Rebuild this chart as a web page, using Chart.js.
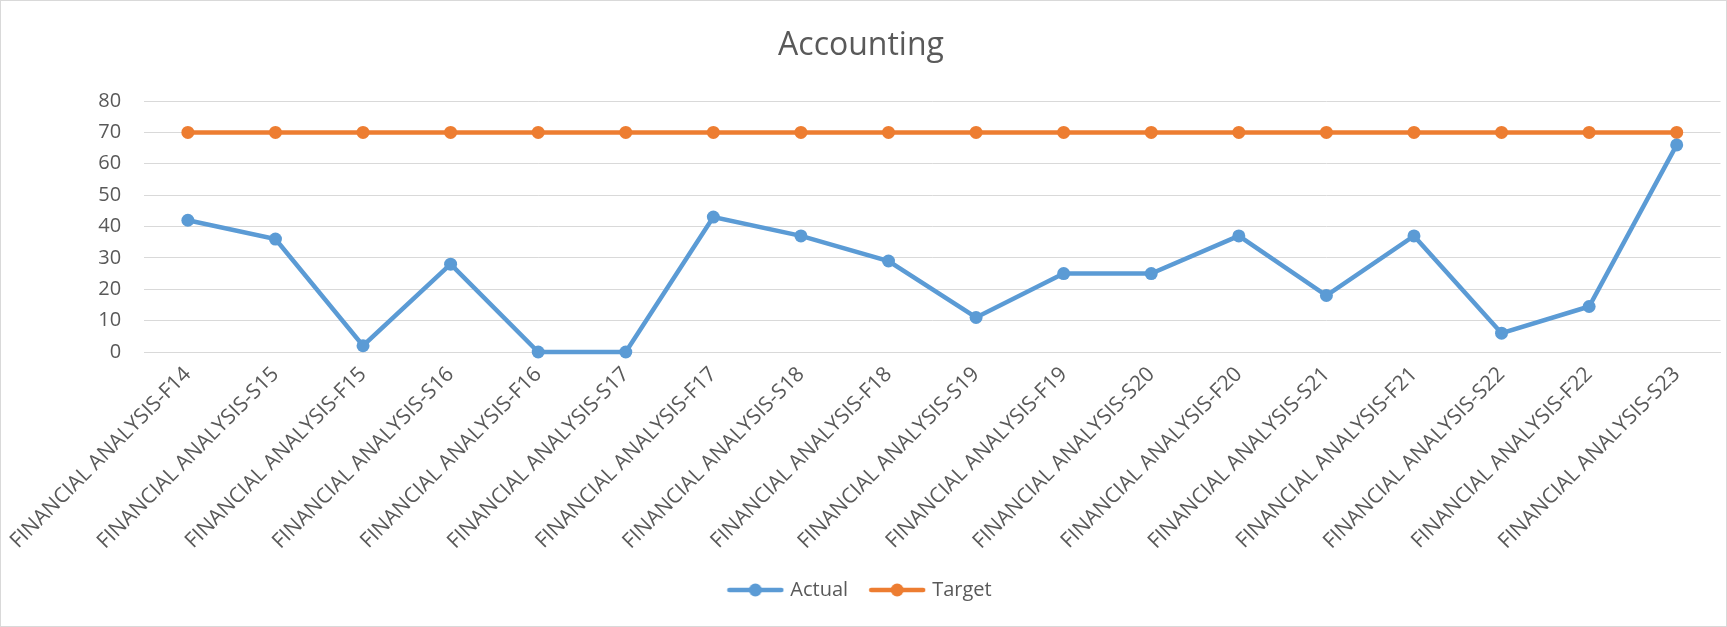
<!DOCTYPE html>
<html>
<head>
<meta charset="utf-8">
<title>Accounting</title>
<script src="https://cdn.jsdelivr.net/npm/chart.js@4.4.1/dist/chart.umd.min.js"></script>
<style>
    html, body { margin: 0; padding: 0; background: #ffffff; }
    #wrap { width: 1727px; height: 627px; position: relative; }
</style>
</head>
<body>
<div id="wrap"><canvas id="accountingChart"></canvas></div>
<script>
// Data
const categories = [
    'FINANCIAL ANALYSIS-F14', 'FINANCIAL ANALYSIS-S15', 'FINANCIAL ANALYSIS-F15',
    'FINANCIAL ANALYSIS-S16', 'FINANCIAL ANALYSIS-F16', 'FINANCIAL ANALYSIS-S17',
    'FINANCIAL ANALYSIS-F17', 'FINANCIAL ANALYSIS-S18', 'FINANCIAL ANALYSIS-F18',
    'FINANCIAL ANALYSIS-S19', 'FINANCIAL ANALYSIS-F19', 'FINANCIAL ANALYSIS-S20',
    'FINANCIAL ANALYSIS-F20', 'FINANCIAL ANALYSIS-S21', 'FINANCIAL ANALYSIS-F21',
    'FINANCIAL ANALYSIS-S22', 'FINANCIAL ANALYSIS-F22', 'FINANCIAL ANALYSIS-S23'
];
const actualValues = [42, 36, 2, 28, 0, 0, 43, 37, 29, 11, 25, 25, 37, 18, 37, 6, 14.5, 66];
const targetValues = [70, 70, 70, 70, 70, 70, 70, 70, 70, 70, 70, 70, 70, 70, 70, 70, 70, 70];
const yMin = 0;
const yMax = 80;
const yStep = 10;

const BLUE = '#5B9BD5';
const ORANGE = '#ED7D31';
const TEXT = '#595959';
const GRID = '#D9D9D9';
const FONT = "'Open Sans', 'Noto Sans', sans-serif";

// legend marker: a short line with a dot in the middle, like Excel
function makeMarker(color) {
    const c = document.createElement('canvas');
    c.width = 58;
    c.height = 16;
    const ctx = c.getContext('2d');
    ctx.strokeStyle = color;
    ctx.lineWidth = 4.5;
    ctx.lineCap = 'round';
    ctx.beginPath();
    ctx.moveTo(3, 8);
    ctx.lineTo(55, 8);
    ctx.stroke();
    ctx.fillStyle = color;
    ctx.beginPath();
    ctx.arc(29, 8, 6.5, 0, Math.PI * 2);
    ctx.fill();
    return c;
}
const markers = [makeMarker(BLUE), makeMarker(ORANGE)];

const chartBackground = {
    id: 'chartBackground',
    beforeDraw(chart) {
        const ctx = chart.ctx;
        ctx.save();
        ctx.fillStyle = '#ffffff';
        ctx.fillRect(0, 0, chart.width, chart.height);
        ctx.restore();
    },
    afterDraw(chart) {
        const ctx = chart.ctx;
        ctx.save();
        ctx.strokeStyle = GRID;
        ctx.lineWidth = 1;
        ctx.strokeRect(0.5, 0.5, chart.width - 1, chart.height - 1);
        ctx.restore();
    }
};

function lineDataset(label, values, color) {
    return {
        label: label,
        data: values,
        borderColor: color,
        backgroundColor: color,
        borderWidth: 4.5,
        pointRadius: 6.5,
        pointHoverRadius: 6.5,
        pointBorderWidth: 0,
        pointBackgroundColor: color,
        tension: 0,
        fill: false,
        clip: false
    };
}

new Chart(document.getElementById('accountingChart'), {
    type: 'line',
    data: {
        labels: categories,
        datasets: [
            lineDataset('Actual', actualValues, BLUE),
            lineDataset('Target', targetValues, ORANGE)
        ]
    },
    plugins: [chartBackground],
    options: {
        responsive: true,
        maintainAspectRatio: false,
        animation: false,
        layout: { padding: { left: 0, right: 5, top: 0, bottom: 17 } },
        scales: {
            x: {
                offset: true,
                grid: { display: false, drawTicks: false },
                border: { display: true, color: GRID, width: 1 },
                ticks: {
                    autoSkip: false,
                    minRotation: 45,
                    maxRotation: 45,
                    padding: 10,
                    color: TEXT,
                    font: { family: FONT, size: 21 }
                },
                afterFit(scale) { scale.height = 204; }
            },
            y: {
                min: yMin,
                max: yMax,
                grid: { color: GRID, lineWidth: 1, drawTicks: false },
                border: { display: false },
                ticks: {
                    stepSize: yStep,
                    padding: 23,
                    color: TEXT,
                    font: { family: FONT, size: 20 }
                },
                afterFit(scale) { scale.width = 142; }
            }
        },
        plugins: {
            title: {
                display: true,
                text: 'Accounting',
                color: TEXT,
                font: { family: FONT, size: 32, weight: 'normal' },
                padding: { top: 27, bottom: 35.6 }
            },
            legend: {
                position: 'bottom',
                labels: {
                    usePointStyle: true,
                    pointStyleWidth: 50,
                    padding: 24,
                    color: TEXT,
                    font: { family: FONT, size: 20 },
                    generateLabels(chart) {
                        const items = Chart.defaults.plugins.legend.labels.generateLabels(chart);
                        items.forEach((item, i) => { item.pointStyle = markers[i]; });
                        return items;
                    }
                }
            },
            tooltip: { enabled: false }
        }
    }
});
</script>
</body>
</html>
